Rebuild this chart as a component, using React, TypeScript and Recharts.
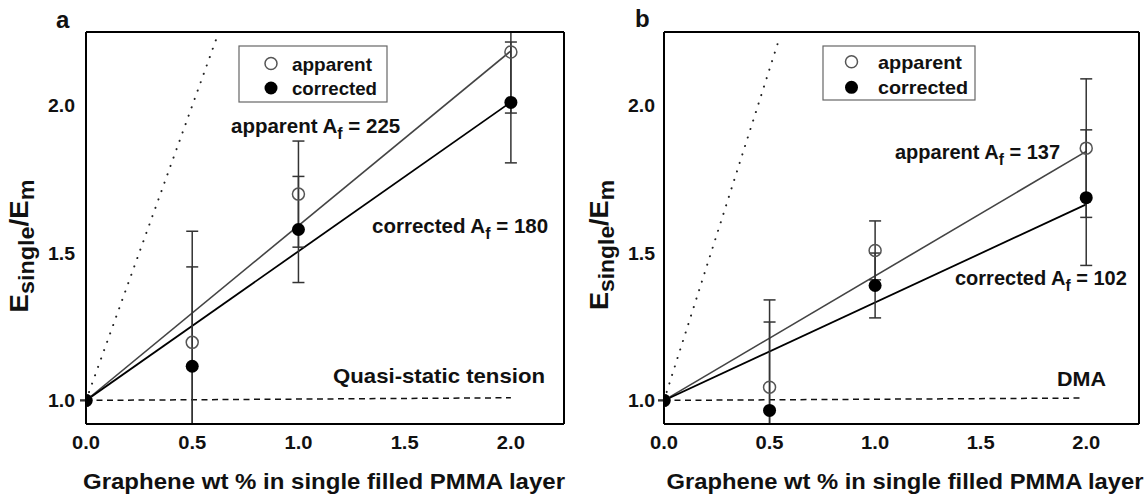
import React from 'react';
import { ComposedChart, XAxis, YAxis, Scatter, Line, ErrorBar } from 'recharts';

const FF = "'Liberation Sans', Arial, Helvetica, sans-serif";

const X_DOMAIN: [number, number] = [0, 2.25];
const Y_DOMAIN: [number, number] = [0.92, 2.25];
const xMajorTicks = [0, 0.5, 1.0, 1.5, 2.0];
const xMinorTicks = [0.25, 0.75, 1.25, 1.75];
const yMajorTicks = [1.0, 1.5, 2.0];
const yMinorTicks = [1.25, 1.75];

// graphene loading (wt %)
const loadings = [0, 0.5, 1.0, 2.0];

// panel a: quasi-static tension
const apparentA = [1.0, 1.197, 1.70, 2.182];
const apparentErrA = [0, 0.377, 0.18, 0.207];
const correctedA = [1.0, 1.116, 1.58, 2.011];
const correctedErrA = [0, 0.337, 0.18, 0.205];
const fitX = [0, 2.0];
const apparentFitA = [1.0, 2.186];
const correctedFitA = [1.0, 2.012];
const boundXA = [0, 0.615];
const boundYA = [1.0, 2.23];
const matrixX = [0, 2.0];
const matrixYA = [1.0, 1.009];

// panel b: DMA
const apparentB = [1.0, 1.045, 1.509, 1.856];
const apparentErrB = [0, 0.296, 0.10, 0.235];
const correctedB = [1.0, 0.966, 1.39, 1.688];
const correctedErrB = [0, 0.30, 0.11, 0.23];
const apparentFitB = [1.0, 1.845];
const correctedFitB = [1.0, 1.665];
const boundXB = [0, 0.547];
const boundYB = [1.0, 2.23];
const matrixXB = [0, 1.98];
const matrixYB = [1.0, 1.008];

const pts = (xs: number[], ys: number[]) => xs.map((x, i) => ({ x, y: ys[i] }));

// error bars are cut where they leave the plotted y range (as the frame clips them)
const ptsErr = (xs: number[], ys: number[], errs: number[]) =>
  xs.map((x, i) => ({
    x,
    y: ys[i],
    err: [Math.min(errs[i], ys[i] - Y_DOMAIN[0]), Math.min(errs[i], Y_DOMAIN[1] - ys[i])],
  }));

const XTick = (props: any) => {
  const { x, y, payload } = props;
  return (
    <text x={x} y={y} dy={25} textAnchor="middle" fontFamily={FF} fontWeight="bold" fontSize={18}
      fill="#111" textLength={28} lengthAdjust="spacingAndGlyphs">
      {Number(payload.value).toFixed(1)}
    </text>
  );
};

const YTick = (props: any) => {
  const { x, y, payload } = props;
  return (
    <text x={x} y={y} dy={6.5} textAnchor="end" fontFamily={FF} fontWeight="bold" fontSize={18}
      fill="#111" textLength={27} lengthAdjust="spacingAndGlyphs">
      {Number(payload.value).toFixed(1)}
    </text>
  );
};

const OpenDot = (p: any) => (
  <circle cx={p.cx} cy={p.cy} r={6} fill="none" stroke="#555" strokeWidth={1.5} />
);
const FilledDot = (p: any) => <circle cx={p.cx} cy={p.cy} r={6.5} fill="#000" />;

const frameAxes = () => {
  const ax = { stroke: '#000', strokeWidth: 2 };
  const tl = { stroke: '#000', strokeWidth: 1.6 };
  return [
    <XAxis key="tM" xAxisId="tM" orientation="top" mirror type="number" domain={X_DOMAIN} allowDataOverflow
      ticks={xMajorTicks} tick={false} tickSize={8} axisLine={ax} tickLine={tl} height={1} />,
    <XAxis key="tm" xAxisId="tm" orientation="top" mirror type="number" domain={X_DOMAIN} allowDataOverflow
      ticks={xMinorTicks} tick={false} tickSize={5} axisLine={false} tickLine={tl} height={1} />,
    <XAxis key="bM" xAxisId="bM" orientation="bottom" mirror type="number" domain={X_DOMAIN} allowDataOverflow
      ticks={xMajorTicks} tick={false} tickSize={8} axisLine={false} tickLine={tl} height={1} />,
    <XAxis key="bm" xAxisId="bm" orientation="bottom" mirror type="number" domain={X_DOMAIN} allowDataOverflow
      ticks={xMinorTicks} tick={false} tickSize={5} axisLine={false} tickLine={tl} height={1} />,
    <YAxis key="lM" yAxisId="lM" orientation="left" mirror type="number" domain={Y_DOMAIN} allowDataOverflow
      ticks={yMajorTicks} tick={false} tickSize={8} axisLine={false} tickLine={tl} width={1} />,
    <YAxis key="lm" yAxisId="lm" orientation="left" mirror type="number" domain={Y_DOMAIN} allowDataOverflow
      ticks={yMinorTicks} tick={false} tickSize={5} axisLine={false} tickLine={tl} width={1} />,
    <YAxis key="rM" yAxisId="rM" orientation="right" mirror type="number" domain={Y_DOMAIN} allowDataOverflow
      ticks={yMajorTicks} tick={false} tickSize={8} axisLine={ax} tickLine={tl} width={1} />,
    <YAxis key="rm" yAxisId="rm" orientation="right" mirror type="number" domain={Y_DOMAIN} allowDataOverflow
      ticks={yMinorTicks} tick={false} tickSize={5} axisLine={false} tickLine={tl} width={1} />,
  ];
};

type PanelProps = {
  apparent: number[]; apparentErr: number[]; corrected: number[]; correctedErr: number[];
  apparentFit: number[]; correctedFit: number[]; boundX: number[]; boundY: number[];
  mX: number[]; mY: number[]; yWidth: number; right: number; tickMargin: number;
};

const Panel = (p: PanelProps) => (
  <ComposedChart width={574} height={496} margin={{ top: 32, right: p.right, bottom: 0, left: 0 }}>
    <XAxis xAxisId="x" dataKey="x" type="number" domain={X_DOMAIN} allowDataOverflow ticks={xMajorTicks}
      tick={<XTick />} tickLine={false} tickSize={0} tickMargin={0} height={72}
      axisLine={{ stroke: '#000', strokeWidth: 2 }} />
    <YAxis yAxisId="y" dataKey="y" type="number" domain={Y_DOMAIN} allowDataOverflow ticks={yMajorTicks}
      tick={<YTick />} tickLine={false} tickSize={0} tickMargin={p.tickMargin} width={p.yWidth}
      axisLine={{ stroke: '#000', strokeWidth: 2 }} />
    {frameAxes()}
    <Line xAxisId="x" yAxisId="y" data={pts(p.boundX, p.boundY)} dataKey="y" type="linear" dot={false}
      activeDot={false} stroke="#222" strokeWidth={2} strokeDasharray="0.1 8.8" strokeLinecap="round"
      isAnimationActive={false} />
    <Line xAxisId="x" yAxisId="y" data={pts(p.mX, p.mY)} dataKey="y" type="linear" dot={false}
      activeDot={false} stroke="#111" strokeWidth={1.5} strokeDasharray="6 4.5" isAnimationActive={false} />
    <Line xAxisId="x" yAxisId="y" data={pts(fitX, p.apparentFit)} dataKey="y" type="linear" dot={false}
      activeDot={false} stroke="#444" strokeWidth={1.6} isAnimationActive={false} />
    <Line xAxisId="x" yAxisId="y" data={pts(fitX, p.correctedFit)} dataKey="y" type="linear" dot={false}
      activeDot={false} stroke="#000" strokeWidth={1.8} isAnimationActive={false} />
    <Scatter xAxisId="x" yAxisId="y" data={ptsErr(loadings, p.apparent, p.apparentErr)} dataKey="y"
      shape={<OpenDot />} isAnimationActive={false}>
      <ErrorBar dataKey="err" direction="y" width={6} stroke="#333" strokeWidth={1.5} />
    </Scatter>
    <Scatter xAxisId="x" yAxisId="y" data={ptsErr(loadings, p.corrected, p.correctedErr)} dataKey="y"
      shape={<FilledDot />} isAnimationActive={false}>
      <ErrorBar dataKey="err" direction="y" width={6} stroke="#333" strokeWidth={1.5} />
    </Scatter>
  </ComposedChart>
);

const txt = { fontFamily: FF, fontWeight: 'bold' as const, fill: '#111' };

const Annot = ({ x, y, size, label, value }: { x: number; y: number; size: number; label: string; value: string }) => (
  <text x={x} y={y} fontSize={size} {...txt}>
    {label} A<tspan fontSize={size * 0.78} dy={6}>f</tspan><tspan dy={-6}> = {value}</tspan>
  </text>
);

const YLabel = ({ x, y, len }: { x: number; y: number; len: number }) => (
  <text x={x} y={y} transform={`rotate(-90 ${x} ${y})`} textAnchor="middle" fontSize={26}
    textLength={len} lengthAdjust="spacingAndGlyphs" {...txt}>
    E<tspan fontSize={22} dy={6}>single</tspan><tspan dy={-6}>/E</tspan><tspan fontSize={22} dy={6}>m</tspan>
  </text>
);

const LegendBox = ({ x, y, w, h, mx, tx, y1, y2, l1, l2 }: any) => (
  <g>
    <rect x={x} y={y} width={w} height={h} fill="#fff" stroke="#666" strokeWidth={1.2} />
    <circle cx={mx} cy={y1} r={6} fill="none" stroke="#555" strokeWidth={1.5} />
    <circle cx={mx} cy={y2} r={6.5} fill="#000" />
    <text x={tx} y={y1 + 7} fontSize={19} textLength={l1} lengthAdjust="spacingAndGlyphs" {...txt}>apparent</text>
    <text x={tx} y={y2 + 7} fontSize={19} textLength={l2} lengthAdjust="spacingAndGlyphs" {...txt}>corrected</text>
  </g>
);

const XLABEL = 'Graphene wt % in single filled PMMA layer';

export default function App() {
  return (
    <div style={{ position: 'absolute', left: 0, top: 0, width: 1148, height: 496, background: '#fff', overflow: 'hidden' }}>
      <div style={{ position: 'absolute', left: 0, top: 0 }}>
        <Panel apparent={apparentA} apparentErr={apparentErrA} corrected={correctedA} correctedErr={correctedErrA}
          apparentFit={apparentFitA} correctedFit={correctedFitA} boundX={boundXA} boundY={boundYA}
          mX={matrixX} mY={matrixYA} yWidth={86} right={10} tickMargin={11} />
      </div>
      <div style={{ position: 'absolute', left: 574, top: 0 }}>
        <Panel apparent={apparentB} apparentErr={apparentErrB} corrected={correctedB} correctedErr={correctedErrB}
          apparentFit={apparentFitB} correctedFit={correctedFitB} boundX={boundXB} boundY={boundYB}
          mX={matrixXB} mY={matrixYB} yWidth={90} right={9} tickMargin={9} />
      </div>
      <svg width={1148} height={496} style={{ position: 'absolute', left: 0, top: 0, pointerEvents: 'none' }}>
        <text x={56} y={28} fontSize={24} {...txt}>a</text>
        <text x={635} y={27} fontSize={24} {...txt}>b</text>

        <LegendBox x={239} y={46} w={148} h={56} mx={271} tx={292} y1={63.5} y2={88} l1={80} l2={85} />
        <LegendBox x={823} y={46} w={152} h={54} mx={851.5} tx={878} y1={61.7} y2={87.3} l1={84} l2={90} />

        <Annot x={231} y={133} size={20.5} label="apparent" value="225" />
        <Annot x={372} y={233} size={20.5} label="corrected" value="180" />
        <text x={333} y={383} fontSize={21} textLength={212} lengthAdjust="spacingAndGlyphs" {...txt}>Quasi-static tension</text>

        <Annot x={895} y={159} size={20} label="apparent" value="137" />
        <Annot x={955} y={285} size={20} label="corrected" value="102" />
        <text x={1057} y={386} fontSize={21} textLength={49} lengthAdjust="spacingAndGlyphs" {...txt}>DMA</text>

        <text x={324} y={489} fontSize={22} textAnchor="middle" textLength={482} lengthAdjust="spacingAndGlyphs" {...txt}>{XLABEL}</text>
        <text x={905} y={489} fontSize={22} textAnchor="middle" textLength={477} lengthAdjust="spacingAndGlyphs" {...txt}>{XLABEL}</text>

        <YLabel x={28} y={246} len={133} />
        <YLabel x={608} y={245} len={130} />
      </svg>
    </div>
  );
}
